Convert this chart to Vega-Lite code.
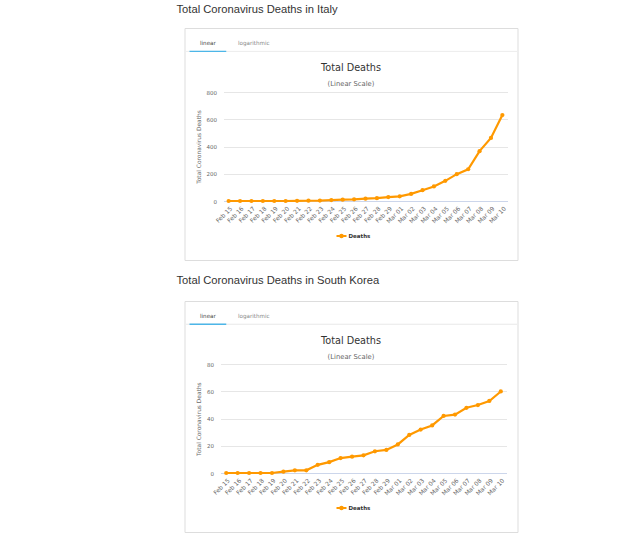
{
  "$schema": "https://vega.github.io/schema/vega-lite/v6.json",
  "description": "Total coronavirus deaths in Italy and South Korea, Feb 15 - Mar 10",
  "background": "white",
  "padding": {"left": 176.5, "top": 4, "right": 5, "bottom": 0},
  "spacing": 14,
  "datasets": {
    "tabs": [
      {"tab": "linear"},
      {"tab": "logarithmic"}
    ],
    "italy": [
      {"date": "Feb 15", "deaths": 0},
      {"date": "Feb 16", "deaths": 0},
      {"date": "Feb 17", "deaths": 0},
      {"date": "Feb 18", "deaths": 0},
      {"date": "Feb 19", "deaths": 0},
      {"date": "Feb 20", "deaths": 0},
      {"date": "Feb 21", "deaths": 1},
      {"date": "Feb 22", "deaths": 2},
      {"date": "Feb 23", "deaths": 3},
      {"date": "Feb 24", "deaths": 7},
      {"date": "Feb 25", "deaths": 10},
      {"date": "Feb 26", "deaths": 12},
      {"date": "Feb 27", "deaths": 17},
      {"date": "Feb 28", "deaths": 21},
      {"date": "Feb 29", "deaths": 29},
      {"date": "Mar 01", "deaths": 34},
      {"date": "Mar 02", "deaths": 52},
      {"date": "Mar 03", "deaths": 79},
      {"date": "Mar 04", "deaths": 107},
      {"date": "Mar 05", "deaths": 148},
      {"date": "Mar 06", "deaths": 197},
      {"date": "Mar 07", "deaths": 233},
      {"date": "Mar 08", "deaths": 366},
      {"date": "Mar 09", "deaths": 463},
      {"date": "Mar 10", "deaths": 631}
    ],
    "korea": [
      {"date": "Feb 15", "deaths": 0},
      {"date": "Feb 16", "deaths": 0},
      {"date": "Feb 17", "deaths": 0},
      {"date": "Feb 18", "deaths": 0},
      {"date": "Feb 19", "deaths": 0},
      {"date": "Feb 20", "deaths": 1},
      {"date": "Feb 21", "deaths": 2},
      {"date": "Feb 22", "deaths": 2},
      {"date": "Feb 23", "deaths": 6},
      {"date": "Feb 24", "deaths": 8},
      {"date": "Feb 25", "deaths": 11},
      {"date": "Feb 26", "deaths": 12},
      {"date": "Feb 27", "deaths": 13},
      {"date": "Feb 28", "deaths": 16},
      {"date": "Feb 29", "deaths": 17},
      {"date": "Mar 01", "deaths": 21},
      {"date": "Mar 02", "deaths": 28},
      {"date": "Mar 03", "deaths": 32},
      {"date": "Mar 04", "deaths": 35},
      {"date": "Mar 05", "deaths": 42},
      {"date": "Mar 06", "deaths": 43},
      {"date": "Mar 07", "deaths": 48},
      {"date": "Mar 08", "deaths": 50},
      {"date": "Mar 09", "deaths": 53},
      {"date": "Mar 10", "deaths": 60}
    ]
  },
  "vconcat": [
    {
      "title": {"text": "Total Coronavirus Deaths in Italy", "anchor": "start", "font": "Liberation Sans", "fontSize": 11.2, "fontWeight": "normal", "color": "#333333", "offset": 12, "dx": -7},
      "vconcat": [
        {
          "width": 333,
          "height": 232,
          "view": {"stroke": "#dddddd", "strokeWidth": 1},
          "title": {"text": "Total Deaths", "subtitle": "(Linear Scale)", "frame": "group", "anchor": "middle", "offset": -60, "font": "DejaVu Sans", "fontSize": 9.7, "fontWeight": "normal", "color": "#333333", "subtitleFont": "DejaVu Sans", "subtitleFontSize": 6.8, "subtitleColor": "#666666", "subtitlePadding": 9},
          "layer": [
            {
              "data": {"name": "tabs"},
              "encoding": {
                "y": {"datum": 0.5, "type": "quantitative", "scale": {"domain": [0, 1], "range": [24.1, 22.7]}, "axis": null}
              },
              "layer": [
                {"mark": {"type": "rule", "color": "#eeeeee", "strokeWidth": 1}, "encoding": {}},
                {
                  "mark": {"type": "bar", "color": "#4db6e8"},
                  "encoding": {
                    "x": {"field": "tab", "type": "nominal", "sort": null,
                      "scale": {"type": "band", "domain": ["linear", "logarithmic"], "range": [5, 87.7], "paddingInner": 0.2, "paddingOuter": 0},
                      "axis": {"orient": "top", "offset": -19, "title": null, "domain": false, "ticks": false, "grid": false, "labelAngle": 0, "labelPadding": 2, "labelFont": "DejaVu Sans", "labelFontSize": 5.6,
                        "labelColor": {"condition": {"test": "datum.value === 'linear'", "value": "#444444"}, "value": "#888888"}}},
                    "y": {"datum": 0, "type": "quantitative"},
                    "y2": {"datum": 1},
                    "opacity": {"condition": {"test": "datum.tab === 'linear'", "value": 1}, "value": 0}
                  }
                }
              ]
            },
            {
              "data": {"name": "italy"},
              "encoding": {
                "x": {"field": "date", "type": "ordinal", "sort": null,
                  "scale": {"type": "point", "range": [39, 323], "padding": 0.45},
                  "axis": {"orient": "bottom", "offset": -59, "title": null, "labelAngle": -45, "labelFont": "DejaVu Sans", "labelFontSize": 6, "labelColor": "#666666", "labelPadding": 4, "domainColor": "#ccd6eb", "domainWidth": 1, "ticks": false, "grid": false}},
                "y": {"field": "deaths", "type": "quantitative",
                  "scale": {"domain": [0, 800], "range": [173, 64], "nice": false},
                  "axis": {"orient": "left", "offset": -39, "values": [0, 200, 400, 600, 800], "domain": false, "ticks": false, "grid": true, "gridColor": "#e6e6e6", "gridWidth": 1, "labelFont": "DejaVu Sans", "labelFontSize": 5.5, "labelColor": "#666666", "labelPadding": 7,
                    "title": "Total Coronavirus Deaths", "titleFont": "DejaVu Sans", "titleFontSize": 5.9, "titleFontWeight": "normal", "titleColor": "#666666", "titlePadding": 5}},
                "color": {"datum": "Deaths", "scale": {"range": ["#ff9900"]},
                  "legend": {"orient": "none", "legendX": 151, "legendY": 202, "title": null, "symbolType": "M-1,0L1,0M-0.25,0A0.25,0.25 0 1,1 0.25,0A0.25,0.25 0 1,1 -0.25,0", "symbolSize": 100, "symbolStrokeWidth": 2, "symbolFillColor": "#ff9900", "symbolStrokeColor": "#ff9900", "labelFont": "DejaVu Sans", "labelFontSize": 5.5, "labelFontWeight": "bold", "labelColor": "#333333", "labelOffset": 1}}
              },
              "layer": [
                {"mark": {"type": "line", "strokeWidth": 2.2}},
                {"mark": {"type": "point", "filled": true, "size": 18, "opacity": 1}}
              ]
            }
          ],
          "resolve": {"scale": {"x": "independent", "y": "independent", "color": "independent"}}
        }
      ],
      "resolve": {"scale": {"color": "independent"}}
    },
    {
      "title": {"text": "Total Coronavirus Deaths in South Korea", "anchor": "start", "font": "Liberation Sans", "fontSize": 11.2, "fontWeight": "normal", "color": "#333333", "offset": 14, "dx": -7},
      "vconcat": [
        {
          "width": 333,
          "height": 231,
          "view": {"stroke": "#dddddd", "strokeWidth": 1},
          "title": {"text": "Total Deaths", "subtitle": "(Linear Scale)", "frame": "group", "anchor": "middle", "offset": -60, "font": "DejaVu Sans", "fontSize": 9.7, "fontWeight": "normal", "color": "#333333", "subtitleFont": "DejaVu Sans", "subtitleFontSize": 6.8, "subtitleColor": "#666666", "subtitlePadding": 9},
          "layer": [
            {
              "data": {"name": "tabs"},
              "encoding": {
                "y": {"datum": 0.5, "type": "quantitative", "scale": {"domain": [0, 1], "range": [24.0, 22.6]}, "axis": null}
              },
              "layer": [
                {"mark": {"type": "rule", "color": "#eeeeee", "strokeWidth": 1}, "encoding": {}},
                {
                  "mark": {"type": "bar", "color": "#4db6e8"},
                  "encoding": {
                    "x": {"field": "tab", "type": "nominal", "sort": null,
                      "scale": {"type": "band", "domain": ["linear", "logarithmic"], "range": [5, 87.7], "paddingInner": 0.2, "paddingOuter": 0},
                      "axis": {"orient": "top", "offset": -19, "title": null, "domain": false, "ticks": false, "grid": false, "labelAngle": 0, "labelPadding": 2, "labelFont": "DejaVu Sans", "labelFontSize": 5.6,
                        "labelColor": {"condition": {"test": "datum.value === 'linear'", "value": "#444444"}, "value": "#888888"}}},
                    "y": {"datum": 0, "type": "quantitative"},
                    "y2": {"datum": 1},
                    "opacity": {"condition": {"test": "datum.tab === 'linear'", "value": 1}, "value": 0}
                  }
                }
              ]
            },
            {
              "data": {"name": "korea"},
              "encoding": {
                "x": {"field": "date", "type": "ordinal", "sort": null,
                  "scale": {"type": "point", "range": [36, 322], "padding": 0.5},
                  "axis": {"orient": "bottom", "offset": -59, "title": null, "labelAngle": -45, "labelFont": "DejaVu Sans", "labelFontSize": 6, "labelColor": "#666666", "labelPadding": 4, "domainColor": "#ccd6eb", "domainWidth": 1, "ticks": false, "grid": false}},
                "y": {"field": "deaths", "type": "quantitative",
                  "scale": {"domain": [0, 80], "range": [172, 63.3], "nice": false},
                  "axis": {"orient": "left", "offset": -36, "values": [0, 20, 40, 60, 80], "domain": false, "ticks": false, "grid": true, "gridColor": "#e6e6e6", "gridWidth": 1, "labelFont": "DejaVu Sans", "labelFontSize": 5.5, "labelColor": "#666666", "labelPadding": 7,
                    "title": "Total Coronavirus Deaths", "titleFont": "DejaVu Sans", "titleFontSize": 5.9, "titleFontWeight": "normal", "titleColor": "#666666", "titlePadding": 5}},
                "color": {"datum": "Deaths", "scale": {"range": ["#ff9900"]},
                  "legend": {"orient": "none", "legendX": 151, "legendY": 201, "title": null, "symbolType": "M-1,0L1,0M-0.25,0A0.25,0.25 0 1,1 0.25,0A0.25,0.25 0 1,1 -0.25,0", "symbolSize": 100, "symbolStrokeWidth": 2, "symbolFillColor": "#ff9900", "symbolStrokeColor": "#ff9900", "labelFont": "DejaVu Sans", "labelFontSize": 5.5, "labelFontWeight": "bold", "labelColor": "#333333", "labelOffset": 1}}
              },
              "layer": [
                {"mark": {"type": "line", "strokeWidth": 2.2}},
                {"mark": {"type": "point", "filled": true, "size": 18, "opacity": 1}}
              ]
            }
          ],
          "resolve": {"scale": {"x": "independent", "y": "independent", "color": "independent"}}
        }
      ],
      "resolve": {"scale": {"color": "independent"}}
    }
  ],
  "resolve": {"scale": {"color": "independent"}},
  "config": {
    "view": {"stroke": null}
  }
}
